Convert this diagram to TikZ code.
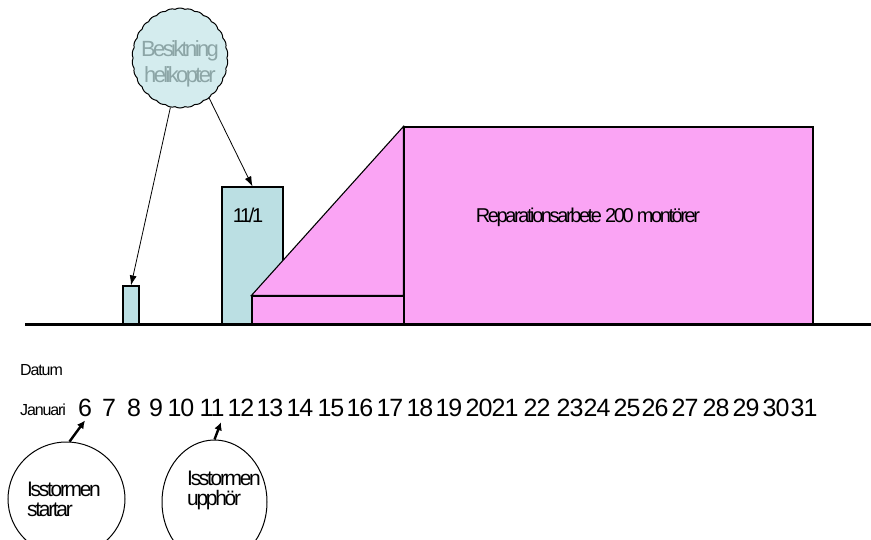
\documentclass[tikz,border=0pt]{standalone}
\usepackage{fontspec}
\setmainfont{Liberation Sans}
\newfontfamily\tightfont[LetterSpace=-11]{Liberation Sans}
\newfontfamily\tighterfont[LetterSpace=-12]{Liberation Sans}
\newfontfamily\numfont[LetterSpace=-4]{Liberation Sans}
\newfontfamily\smallfont[LetterSpace=-7]{Liberation Sans}
\usetikzlibrary{shapes.symbols,shapes.geometric,arrows.meta}
\definecolor{cloudfill}{RGB}{212,236,238}
\definecolor{boxfill}{RGB}{187,223,227}
\definecolor{cloudtext}{RGB}{140,165,166}
\definecolor{pinkfill}{RGB}{250,164,244}
\begin{document}
\begin{tikzpicture}[x=1pt,y=-1pt,
  cyanbox/.style={draw=black, line width=1.1pt, fill=boxfill, rectangle, inner sep=0pt},
  pinkbox/.style={draw=black, line width=1.1pt, fill=pinkfill, rectangle, inner sep=0pt},
  bubble/.style={draw=black, line width=1pt, ellipse, inner sep=0pt},
  thinarrow/.style={draw=black, line width=0.8pt, -{Latex[length=10pt,width=7pt]}},
  thickarrow/.style={draw=black, line width=2.4pt, -{Latex[length=8pt,width=8pt]}},
  numtxt/.style={font=\numfont\fontsize{25}{25}\selectfont, inner sep=0pt, anchor=base},
  lbltxt/.style={font=\tightfont\fontsize{21}{20}\selectfont, inner sep=0pt, align=left}
]
\useasboundingbox (0,0) rectangle (871,539);

% cloud
\node[cloud, cloud puffs=30, cloud puff arc=60, cloud ignores aspect, draw=black,
      line width=1pt, fill=cloudfill, minimum width=96pt, minimum height=100pt,
      inner sep=0pt] (heli) at (180,58) {};
\node[font=\tighterfont\fontsize{22}{26}\selectfont, text=cloudtext, align=center,
      inner sep=0pt] (helitxt) at (180,64) {Besiktning\\helikopter};

% cyan boxes
\node[cyanbox, minimum width=16pt, minimum height=38pt] (small) at (131,305) {};
\node[cyanbox, minimum width=61pt, minimum height=137pt] (tall) at (252.5,255.5) {};
\node[font=\tighterfont\fontsize{20}{20}\selectfont, inner sep=0pt] (date11) at (248,215) {11/1};

% pink shapes
\node[pinkbox, minimum width=409pt, minimum height=197pt] (rep) at (608.5,225.5) {};
\node[pinkbox, minimum width=152pt, minimum height=28pt] (strip) at (328,310) {};
\draw[draw=black, line width=1.1pt, fill=pinkfill, line join=miter]
  (strip.north west) -- (rep.north west) -- (rep.west |- strip.north) -- cycle;
\node[font=\tighterfont\fontsize{20}{20}\selectfont, inner sep=0pt] (reptxt) at (588,217) {Reparationsarbete 200 montörer};

% baseline
\coordinate (axisL) at (25,324);
\coordinate (axisR) at (871,324);
\draw[line width=3pt] (axisL) -- (axisR);

% arrows from cloud
\draw[thinarrow] (heli.-101) -- (small.north);
\draw[thinarrow] (heli.-54) -- (tall.north);

% date labels
\node[font=\smallfont\fontsize{16}{16}\selectfont, inner sep=0pt, anchor=base west] (datum) at (20,375) {Datum};
\node[font=\smallfont\fontsize{16}{16}\selectfont, inner sep=0pt, anchor=base west] (jan) at (20,415) {Januari};

\foreach \n/\x in {6/85,7/109,8/134,9/156,10/181,11/212,12/241,13/270,14/300,15/331,16/360,17/390,18/420,19/449,20/479,21/505,22/537,23/570,24/597,25/627,26/655,27/685,28/716,29/746,30/776,31/804}
  \node[numtxt] (n\n) at (\x,416) {\n};

% bubbles
\node[bubble, minimum width=117pt, minimum height=114pt] (e1) at (66.5,499) {};
\node[bubble, minimum width=105pt, minimum height=124pt] (e2) at (214.5,502) {};
\node[lbltxt, anchor=base west] (t1) at (27,516) {Isstormen\\startar};
\node[lbltxt, anchor=base west] (t2) at (187,505) {Isstormen\\upphör};

\draw[thickarrow] (e1.87) -- ([yshift=-4pt]n6.south);
\draw[thickarrow] (e2.90) -- ([xshift=9pt,yshift=-6pt]n11.south);
\end{tikzpicture}
\end{document}
